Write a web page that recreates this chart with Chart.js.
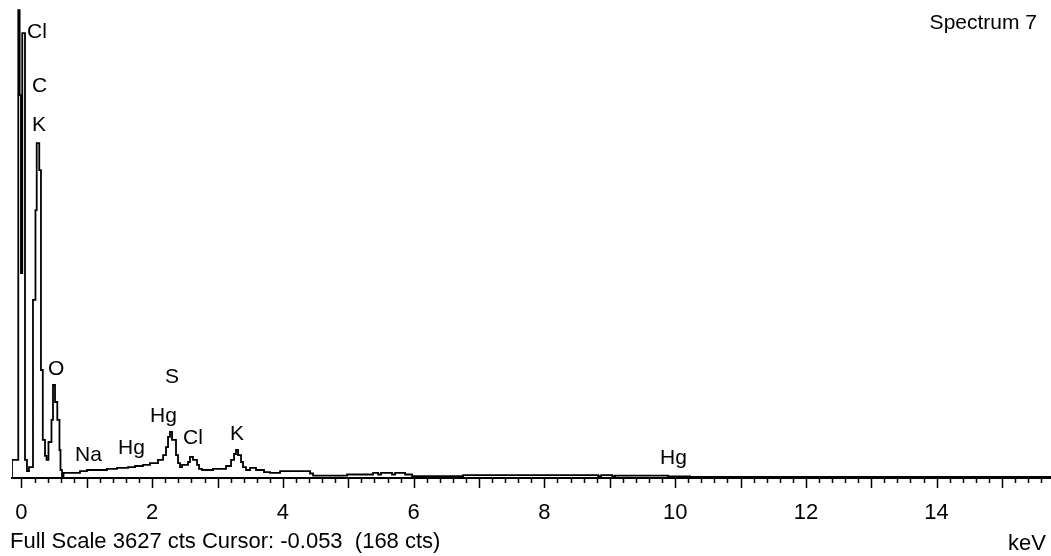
<!DOCTYPE html>
<html>
<head>
<meta charset="utf-8">
<title>Spectrum 7</title>
<script src="https://cdn.jsdelivr.net/npm/chart.js@4.4.1/dist/chart.umd.min.js"></script>
<style>
  html, body { margin: 0; padding: 0; background: #fff; }
  #wrap { width: 1051px; height: 556px; }
</style>
</head>
<body>
<div id="wrap"><canvas id="spectrum" width="1051" height="556"></canvas></div>
<script>
// energy (keV) where each step of the spectrum starts
var energy = [-0.145, -0.049, -0.028, -0.008, 0.012, 0.054, 0.084, 0.115, 0.176, 0.214,
  0.233, 0.272, 0.298, 0.326, 0.360, 0.383, 0.413, 0.459, 0.482, 0.513,
  0.548, 0.581, 0.597, 0.620, 0.643, 0.895, 1.002, 1.308, 1.461, 1.630,
  1.737, 1.859, 1.966, 2.089, 2.166, 2.211, 2.242, 2.272, 2.303, 2.364,
  2.395, 2.425, 2.456, 2.548, 2.578, 2.624, 2.686, 2.716, 2.762, 2.930,
  3.129, 3.206, 3.252, 3.282, 3.313, 3.359, 3.389, 3.435, 3.496, 3.588,
  3.711, 3.803, 3.956, 4.415, 4.461, 4.981, 5.379, 5.456, 5.500, 5.669,
  5.716, 5.869, 5.976, 6.756, 8.822, 8.868, 9.037, 9.082, 9.893, 10.229,
  11.912, 15.75];

// counts for each step
var counts = [0, 140, 3627, 2968, 1589, 3449, 140, 54, 85, 1380,
  2077, 2596, 2387, 837, 295, 171, 140, 279, 450, 721,
  589, 450, 217, 62, 15, 39, 54, 62, 70, 78,
  85, 93, 101, 116, 140, 178, 240, 318, 357, 295,
  178, 116, 85, 101, 124, 163, 140, 101, 70, 62,
  70, 93, 140, 186, 217, 178, 124, 85, 62, 78,
  62, 46, 39, 54, 35, 19, 27, 39, 27, 39,
  27, 39, 27, 15, 23, 15, 23, 15, 19, 12,
  8, 8];

// labelled ticks on the keV axis
var tickLabels = [0, 2, 4, 6, 8, 10, 12, 14];

// element names written over the peaks
var peakNames = ['Cl', 'C', 'K', 'O', 'Na', 'Hg', 'S', 'Hg', 'Cl', 'K', 'Hg'];

var fullScale = 3627;
var cursorKeV = '-0.053';
var cursorCts = 168;

var points = energy.map(function (e, i) {
    return { x: e, y: counts[i] };
});

// draws the tick marks, peak names and the captions
var spectrumDecor = {
    id: 'spectrumDecor',
    afterDraw: function (chart, args, opts) {
        var ctx = chart.ctx;
        var xs = chart.scales.x;
        var ys = chart.scales.y;
        ctx.save();

        // small ticks every 0.2 keV, long ones every keV
        ctx.strokeStyle = '#000';
        ctx.lineWidth = 1.5;
        xs.ticks.forEach(function (t) {
            var px = Math.round(xs.getPixelForValue(t.value)) + 0.5;
            var major = Math.abs(t.value - Math.round(t.value)) < 1e-6;
            ctx.beginPath();
            ctx.moveTo(px, xs.top);
            ctx.lineTo(px, xs.top + (major ? 10 : 5));
            ctx.stroke();
        });

        ctx.fillStyle = '#000';
        ctx.font = opts.font;
        ctx.textBaseline = 'alphabetic';
        ctx.textAlign = 'left';
        opts.peakAnchors.forEach(function (a, i) {
            ctx.fillText(peakNames[i], xs.getPixelForValue(a[0]), ys.getPixelForValue(a[1]));
        });

        ctx.textAlign = 'right';
        ctx.fillText('Spectrum 7', chart.width - 14, 29);

        ctx.font = opts.captionFont;
        ctx.textAlign = 'left';
        ctx.fillText('Full Scale ' + fullScale + ' cts Cursor: ' + cursorKeV + '  (' + cursorCts + ' cts)', 10, 548);
        ctx.fillText('keV', 1008, 550);
        ctx.restore();
    }
};

var ctx = document.getElementById('spectrum').getContext('2d');
var spectrumChart = new Chart(ctx, {
    type: 'line',
    data: {
        datasets: [{
            data: points,
            borderColor: '#000',
            borderWidth: 1.8,
            pointRadius: 0,
            stepped: 'after',
            fill: false
        }]
    },
    options: {
        responsive: false,
        animation: false,
        devicePixelRatio: 1,
        events: [],
        layout: { padding: { left: 12, right: 0, top: 0, bottom: 0 } },
        scales: {
            x: {
                type: 'linear',
                min: -0.145,
                max: 15.75,
                grid: { display: false },
                border: { display: true, color: '#000', width: 2 },
                ticks: {
                    stepSize: 0.2,
                    includeBounds: false,
                    autoSkip: false,
                    maxRotation: 0,
                    padding: 14,
                    color: '#000',
                    font: { family: 'Liberation Sans, Arial, sans-serif', size: 22 },
                    callback: function (v) {
                        var r = Math.round(v);
                        return (Math.abs(v - r) < 1e-6 && tickLabels.indexOf(r) >= 0) ? String(r) : '';
                    }
                },
                afterFit: function (s) {
                    s.height = 78;
                    s.paddingLeft = 0;
                    s.paddingRight = 0;
                }
            },
            y: {
                display: false,
                min: 0,
                max: 3705
            }
        },
        plugins: {
            legend: { display: false },
            tooltip: { enabled: false },
            spectrumDecor: {
                font: '21px "Liberation Sans", Arial, sans-serif',
                captionFont: '22px "Liberation Sans", Arial, sans-serif',
                peakAnchors: [[0.084, 3410], [0.161, 2991], [0.161, 2689], [0.405, 798],
                    [0.819, 132], [1.477, 186], [2.196, 736], [1.966, 434],
                    [2.471, 264], [3.19, 295], [9.77, 109]]
            }
        }
    },
    plugins: [spectrumDecor]
});
</script>
</body>
</html>
